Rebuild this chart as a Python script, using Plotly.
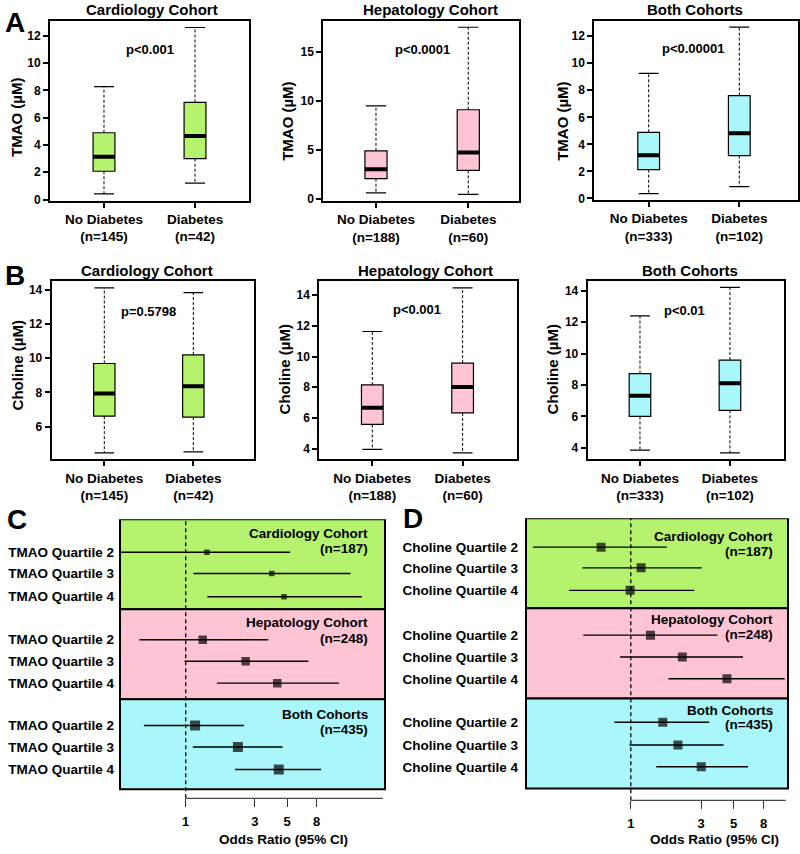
import plotly.graph_objects as go

W, H = 800, 854
FONT = "Liberation Sans, Arial, sans-serif"

# ---------------- data ----------------
groups = ["No Diabetes", "Diabetes"]
cohorts = ["Cardiology Cohort", "Hepatology Cohort", "Both Cohorts"]
group_n = [[145, 42], [188, 60], [333, 102]]
forest_n = [187, 248, 435]
quartiles = ["Quartile 2", "Quartile 3", "Quartile 4"]

# box stats: [lower whisker, Q1, median, Q3, upper whisker] for [No Diabetes, Diabetes]
tmao_cardio = [[0.41, 2.07, 3.13, 4.89, 8.27], [1.20, 2.99, 4.65, 7.11, 12.60]]
tmao_hepato = [[0.64, 2.08, 3.05, 4.92, 9.50], [0.48, 2.92, 4.75, 9.10, 17.50]]
tmao_both = [[0.36, 2.13, 3.20, 4.89, 9.25], [0.87, 3.17, 4.82, 7.60, 12.66]]
choline_cardio = [[4.48, 6.62, 7.94, 9.69, 14.10], [4.54, 6.56, 8.37, 10.19, 13.83]]
choline_hepato = [[3.96, 5.58, 6.67, 8.15, 11.63], [3.73, 6.33, 8.02, 9.57, 14.47]]
choline_both = [[3.85, 6.00, 7.31, 8.72, 12.40], [3.68, 6.38, 8.10, 9.58, 14.21]]
tmao_p = ["p<0.001", "p<0.0001", "p<0.00001"]
choline_p = ["p=0.5798", "p<0.001", "p<0.01"]
tmao_dtick = [2, 5, 2]
choline_dtick = [2, 2, 2]

# odds ratios (cardiology Q2-4, hepatology Q2-4, both Q2-4)
tmao_or = [1.40, 3.92, 4.76, 1.31, 2.59, 4.28, 1.16, 2.29, 4.38]
tmao_lo = [0.30, 1.13, 1.41, 0.48, 0.98, 1.64, 0.515, 1.12, 2.19]
tmao_hi = [5.24, 13.7, 16.4, 3.71, 7.01, 11.4, 2.52, 4.66, 8.57]
choline_or = [0.628, 1.175, 0.99, 1.36, 2.24, 4.50, 1.65, 2.09, 3.01]
choline_lo = [0.216, 0.469, 0.38, 0.476, 0.846, 1.80, 0.774, 0.978, 1.49]
choline_hi = [1.76, 3.04, 2.70, 3.88, 5.78, 11.1, 3.41, 4.27, 6.25]
or_ticks = [1, 3, 5, 8]

# ---------------- style / layout ----------------
colors = ["#b5f36f", "#ffc4d4", "#a9f7fa"]
BOXW = 0.24
CAPW = 0.22


def px(x):
    return x / W


def py(y):
    return 1 - y / H


box_layout = [
    dict(x=(50, 249), y=(21, 202), xr=(0.407, 2.593), title=(151.7, 10), ytitle=(15.8, 118), pv=50),
    dict(x=(323.3, 519.3), y=(20.7, 202.5), xr=(0.429, 2.553), title=(431, 10), ytitle=(286.7, 122), pv=50),
    dict(x=(594.3, 798.3), y=(20.7, 201.7), xr=(0.40, 2.651), title=(695.3, 10), ytitle=(561.7, 122), pv=49.3),
    dict(x=(51.7, 254.3), y=(283.3, 462.7), xr=(0.409, 2.685), title=(146.7, 272.7), ytitle=(17, 368), pv=313.3),
    dict(x=(319.3, 516.7), y=(283.3, 462.7), xr=(0.413, 2.599), title=(425.3, 272.7), ytitle=(284, 372), pv=311.7),
    dict(x=(587.7, 784.3), y=(282.7, 462.7), xr=(0.419, 2.604), title=(690, 272.7), ytitle=(552, 372), pv=312.7),
]

panels = [
    ("TMAO", tmao_cardio, tmao_p[0], tmao_dtick[0], 0),
    ("TMAO", tmao_hepato, tmao_p[1], tmao_dtick[1], 1),
    ("TMAO", tmao_both, tmao_p[2], tmao_dtick[2], 2),
    ("Choline", choline_cardio, choline_p[0], choline_dtick[0], 0),
    ("Choline", choline_hepato, choline_p[1], choline_dtick[1], 1),
    ("Choline", choline_both, choline_p[2], choline_dtick[2], 2),
]

fig = go.Figure()
layout = dict(
    width=W, height=H, margin=dict(l=0, r=0, t=0, b=0),
    paper_bgcolor="white", plot_bgcolor="white", showlegend=False,
    font=dict(family=FONT, color="black"),
)
annotations = []
shapes = []


def bold(size):
    return dict(family=FONT, size=size, color="black", weight="bold")


for k, (metric, stats, pval, dtick, c) in enumerate(panels):
    idx = "" if k == 0 else str(k + 1)
    xa, ya = "x" + idx, "y" + idx
    L = box_layout[k]
    xs = [1, 2]
    lo = min(s[0] for s in stats)
    hi = max(s[4] for s in stats)
    pad = 0.04 * (hi - lo)

    fig.add_trace(go.Bar(
        x=xs, y=[s[3] - s[1] for s in stats], base=[s[1] for s in stats],
        width=BOXW, marker=dict(color=colors[c], line=dict(color="black", width=1.2)),
        xaxis=xa, yaxis=ya, hoverinfo="skip"))
    wx, wy, cx, cy, mx, my = [], [], [], [], [], []
    for xi, s in zip(xs, stats):
        wx += [xi, xi, None, xi, xi, None]
        wy += [s[3], s[4], None, s[1], s[0], None]
        cx += [xi - CAPW / 2, xi + CAPW / 2, None, xi - CAPW / 2, xi + CAPW / 2, None]
        cy += [s[4], s[4], None, s[0], s[0], None]
        mx += [xi - BOXW / 2, xi + BOXW / 2, None]
        my += [s[2], s[2], None]
    fig.add_trace(go.Scatter(x=wx, y=wy, mode="lines", line=dict(color="black", width=1, dash="3px,2px"),
                             xaxis=xa, yaxis=ya, hoverinfo="skip"))
    fig.add_trace(go.Scatter(x=cx, y=cy, mode="lines", line=dict(color="black", width=1.2),
                             xaxis=xa, yaxis=ya, hoverinfo="skip"))
    fig.add_trace(go.Scatter(x=mx, y=my, mode="lines", line=dict(color="black", width=4),
                             xaxis=xa, yaxis=ya, hoverinfo="skip"))

    layout["xaxis" + idx] = dict(
        domain=[px(L["x"][0]), px(L["x"][1])], range=list(L["xr"]), anchor=ya,
        tickvals=xs, ticktext=[f"{g}<br>(n={n})" for g, n in zip(groups, group_n[c])],
        tickfont=bold(13.5), showline=True, mirror=True, linecolor="black", linewidth=2,
        ticks="outside", ticklen=5, tickwidth=1.5, tickcolor="black",
        showgrid=False, zeroline=False)
    layout["yaxis" + idx] = dict(
        domain=[py(L["y"][1]), py(L["y"][0])], range=[lo - pad, hi + pad], anchor=xa,
        tick0=0, dtick=dtick, tickfont=bold(12), showline=True, mirror=True,
        linecolor="black", linewidth=2, ticks="outside", ticklen=5, tickwidth=1.5,
        tickcolor="black", showgrid=False, zeroline=False)

    annotations.append(dict(text=cohorts[c], x=px(L["title"][0]), y=py(L["title"][1]),
                            xref="paper", yref="paper", showarrow=False, font=bold(15),
                            xanchor="center", yanchor="middle"))
    annotations.append(dict(text=f"{metric} (µM)", x=px(L["ytitle"][0]), y=py(L["ytitle"][1]),
                            xref="paper", yref="paper", showarrow=False, font=bold(15),
                            textangle=-90, xanchor="center", yanchor="middle"))
    annotations.append(dict(text=pval, x=1.5, y=py(L["pv"]), xref=xa, yref="paper",
                            showarrow=False, font=bold(13), xanchor="center", yanchor="middle"))

# ---------------- forest plots ----------------
forest_layout = [
    dict(x=(120, 385), y=(523, 804), xr=(-0.453, 1.374), yr=12.4,
         rows=[1.46, 2.41, 3.44, 5.35, 6.31, 7.28, 9.16, 10.12, 11.12],
         lab=[(0.65, 1.31), (0.59, 1.28), (0.66, 1.35)], labx=0.945, sizes=[5.5, 8.5, 10],
         xtitle=283.5, standoff=5),
    dict(x=(526, 788), y=(522, 806), xr=(-0.712, 1.068), yr=12.53,
         rows=[1.28, 2.2, 3.2, 5.19, 6.16, 7.13, 9.06, 10.07, 11.04],
         lab=[(0.82, 1.46), (0.50, 1.18), (0.56, 1.18)], labx=0.950, sizes=[9, 9, 9],
         xtitle=714, standoff=7),
]
forest_data = [("TMAO", tmao_or, tmao_lo, tmao_hi), ("Choline", choline_or, choline_lo, choline_hi)]

for j, (metric, ors, los, his) in enumerate(forest_data):
    idx = str(7 + j)
    xa, ya = "x" + idx, "y" + idx
    F = forest_layout[j]
    rows = F["rows"]
    lx, ly = [], []
    for lo_, hi_, r in zip(los, his, rows):
        lx += [lo_, hi_, None]
        ly += [r, r, None]
    fig.add_trace(go.Scatter(x=lx, y=ly, mode="lines", line=dict(color="black", width=1.4),
                             xaxis=xa, yaxis=ya, hoverinfo="skip"))
    sizes = [F["sizes"][i // 3] for i in range(len(ors))]
    fig.add_trace(go.Scatter(x=ors, y=rows, mode="markers",
                             marker=dict(symbol="square", color="black", size=sizes, line=dict(width=0)),
                             xaxis=xa, yaxis=ya, hoverinfo="skip"))

    layout["xaxis" + idx] = dict(
        domain=[px(F["x"][0]), px(F["x"][1])], type="log", range=list(F["xr"]), anchor=ya,
        tickvals=or_ticks, ticktext=[str(t) for t in or_ticks], tickfont=bold(13),
        showline=False, ticks="outside", ticklen=8, tickwidth=1.3, tickcolor="#333",
        ticklabelstandoff=3, showgrid=False, zeroline=False)
    layout["yaxis" + idx] = dict(
        domain=[py(F["y"][1]), py(F["y"][0])], range=[F["yr"], 0], anchor=xa,
        tickvals=rows, ticktext=[f"{metric} {q}" for _ in cohorts for q in quartiles],
        tickfont=bold(13.5), ticks="", ticklabelstandoff=F["standoff"],
        showline=False, showgrid=False, zeroline=False)

    for c in range(3):
        shapes.append(dict(type="rect", xref=xa + " domain", yref=ya, x0=0, x1=1,
                           y0=4 * c, y1=4 * c + 4, fillcolor=colors[c],
                           line=dict(color="black", width=2), layer="below"))
        annotations.append(dict(text=cohorts[c], x=F["labx"], y=4 * c + F["lab"][c][0],
                                xref=xa + " domain", yref=ya, showarrow=False, font=bold(13.5),
                                xanchor="right", yanchor="middle"))
        annotations.append(dict(text=f"(n={forest_n[c]})", x=F["labx"], y=4 * c + F["lab"][c][1],
                                xref=xa + " domain", yref=ya, showarrow=False, font=bold(13.5),
                                xanchor="right", yanchor="middle"))
    # reference line at OR = 1
    shapes.append(dict(type="line", xref=xa, yref=ya + " domain", x0=1, x1=1, y0=0, y1=1,
                       line=dict(color="black", width=1.3, dash="4px,3px")))
    # axis line (offset below the box)
    shapes.append(dict(type="line", xref=xa, yref=ya + " domain", x0=or_ticks[0],
                       x1=10 ** (F["xr"][1] - 0.015), y0=0, y1=0,
                       line=dict(color="#444", width=1.3)))
    annotations.append(dict(text="Odds Ratio (95% CI)", x=px(F["xtitle"]), y=py(845),
                            xref="paper", yref="paper", showarrow=False, font=bold(13.5),
                            xanchor="center", yanchor="middle"))

# panel letters
for letter, (lx_, ly_) in zip("ABCD", [(15, 23), (15, 277), (16.7, 523), (412.5, 522.5)]):
    annotations.append(dict(text=letter, x=px(lx_), y=py(ly_), xref="paper", yref="paper",
                            showarrow=False, font=bold(28), xanchor="center", yanchor="middle"))

layout["annotations"] = annotations
layout["shapes"] = shapes
fig.update_layout(**layout)
fig.write_html("out.html", config={"displayModeBar": False},
               post_script="document.body.style.margin='0';document.body.style.overflow='hidden';")
